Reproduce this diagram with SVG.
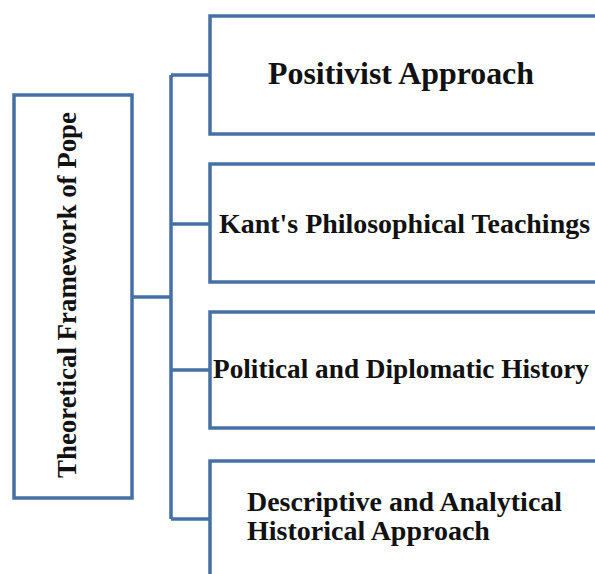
<svg xmlns="http://www.w3.org/2000/svg" width="595" height="574" viewBox="0 0 595 574">
<style>
.box{fill:#fff;stroke:#4470a6;stroke-width:3.5}
.ln{fill:none;stroke:#4470a6;stroke-width:3.5}
.t{font-family:"Liberation Serif","Times New Roman",serif;font-weight:bold;font-size:28px;fill:#111}
</style>
<rect width="595" height="574" fill="#fff"/>
<g id="connectors">
<path class="ln" d="M132,297 H171 M171,75 V519 M171,75 H210 M171,224 H210 M171,370 H210 M171,519 H210"/>
</g>
<g id="root">
<rect class="box" x="14" y="95" width="118" height="403"/>
<text class="t" transform="translate(76,478) rotate(-90)" textLength="366" lengthAdjust="spacingAndGlyphs">Theoretical Framework of Pope</text>
</g>
<g id="n1">
<rect class="box" x="210" y="16" width="388" height="118"/>
<text class="t" x="268" y="84" style="font-size:31px" textLength="266" lengthAdjust="spacingAndGlyphs">Positivist Approach</text>
</g>
<g id="n2">
<rect class="box" x="210" y="164" width="388" height="118"/>
<text class="t" x="219" y="233" textLength="371" lengthAdjust="spacingAndGlyphs">Kant's Philosophical Teachings</text>
</g>
<g id="n3">
<rect class="box" x="210" y="312" width="388" height="116"/>
<text class="t" x="213" y="378" style="font-size:27px" textLength="376" lengthAdjust="spacingAndGlyphs">Political and Diplomatic History</text>
</g>
<g id="n4">
<rect class="box" x="210" y="461" width="388" height="140"/>
<text class="t" x="247" y="511" textLength="315" lengthAdjust="spacingAndGlyphs">Descriptive and Analytical</text>
<text class="t" x="247" y="540">Historical Approach</text>
</g>
</svg>
